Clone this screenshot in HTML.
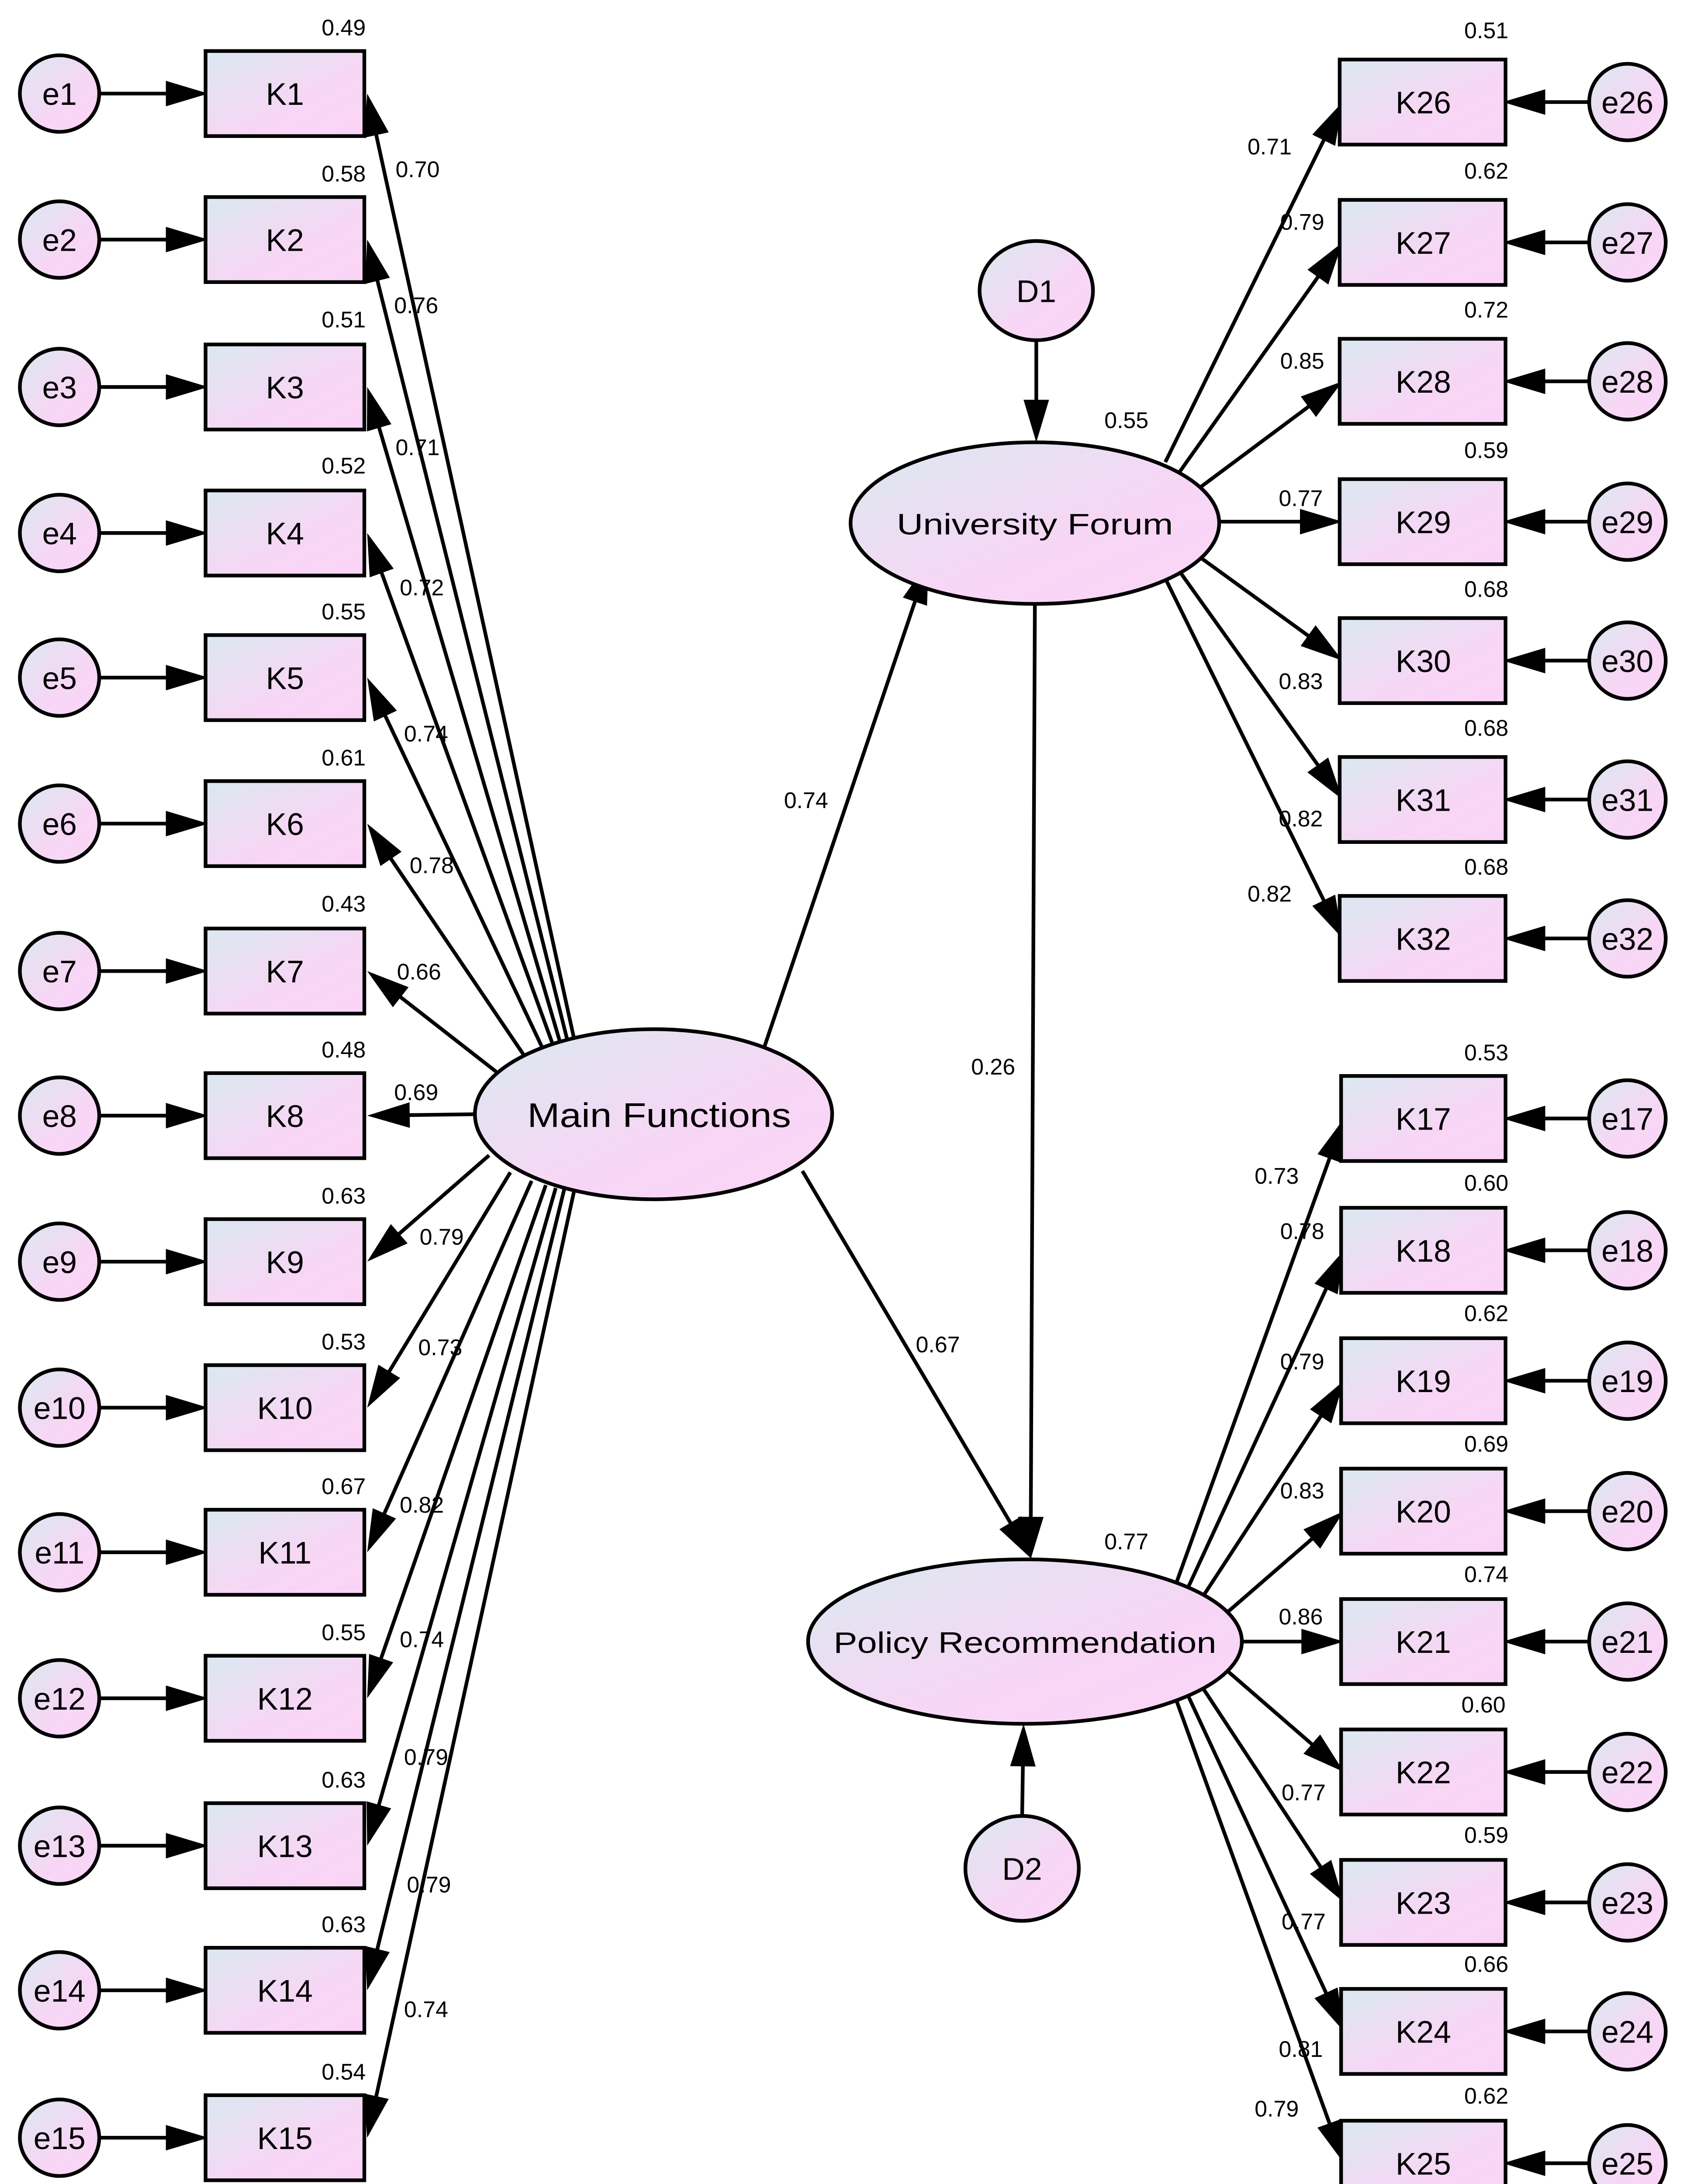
<!DOCTYPE html>
<html><head><meta charset="utf-8"><style>
html,body{margin:0;padding:0;background:#fff;width:3862px;height:5094px;overflow:hidden;}
svg{display:block;position:absolute;left:0;top:0;}
text{font-family:"Liberation Sans",sans-serif;fill:#000;}
.v{font-size:16px;}
.n{font-size:22px;text-anchor:middle;}
</style></head><body>
<svg id="s" width="3862" height="5094" viewBox="0 0 1190 1569.6" preserveAspectRatio="none" xmlns="http://www.w3.org/2000/svg">
<defs>
<linearGradient id="g" x1="0" y1="0" x2="1" y2="1">
<stop offset="0" stop-color="#dbe9f0"/><stop offset="0.6" stop-color="#f7d6f5"/><stop offset="1" stop-color="#fbd4f7"/>
</linearGradient>
</defs>
<g id="lines"></g>
<g id="shapes" stroke="#000" stroke-width="2.6" fill="url(#g)"></g>
<g id="txt">
<text class="n" x="42" y="74">e1</text><text class="n" x="201" y="74">K1</text>
<text class="n" x="42" y="177">e2</text><text class="n" x="201" y="177">K2</text>
<text class="n" x="42" y="281">e3</text><text class="n" x="201" y="281">K3</text>
<text class="n" x="42" y="384">e4</text><text class="n" x="201" y="384">K4</text>
<text class="n" x="42" y="486">e5</text><text class="n" x="201" y="486">K5</text>
<text class="n" x="42" y="589">e6</text><text class="n" x="201" y="589">K6</text>
<text class="n" x="42" y="693">e7</text><text class="n" x="201" y="693">K7</text>
<text class="n" x="42" y="795">e8</text><text class="n" x="201" y="795">K8</text>
<text class="n" x="42" y="898">e9</text><text class="n" x="201" y="898">K9</text>
<text class="n" x="42" y="1001">e10</text><text class="n" x="201" y="1001">K10</text>
<text class="n" x="42" y="1103">e11</text><text class="n" x="201" y="1103">K11</text>
<text class="n" x="42" y="1206">e12</text><text class="n" x="201" y="1206">K12</text>
<text class="n" x="42" y="1310">e13</text><text class="n" x="201" y="1310">K13</text>
<text class="n" x="42" y="1412">e14</text><text class="n" x="201" y="1412">K14</text>
<text class="n" x="42" y="1516">e15</text><text class="n" x="201" y="1516">K15</text>
<g class="v" text-anchor="end">
<text x="258" y="25">0.49</text><text x="258" y="128">0.58</text><text x="258" y="231">0.51</text>
<text x="258" y="334">0.52</text><text x="258" y="437">0.55</text><text x="258" y="540">0.61</text>
<text x="258" y="643">0.43</text><text x="258" y="746">0.48</text><text x="258" y="849">0.63</text>
<text x="258" y="952">0.53</text><text x="258" y="1054">0.67</text><text x="258" y="1157">0.55</text>
<text x="258" y="1261">0.63</text><text x="258" y="1363">0.63</text><text x="258" y="1467">0.54</text>
</g>
<g class="v">
<text x="279" y="125">0.70</text><text x="278" y="221">0.76</text><text x="279" y="321">0.71</text>
<text x="282" y="420">0.72</text><text x="285" y="523">0.74</text><text x="289" y="616">0.78</text>
<text x="280" y="691">0.66</text><text x="278" y="776">0.69</text><text x="296" y="878">0.79</text>
<text x="295" y="956">0.73</text><text x="282" y="1067">0.82</text><text x="282" y="1162">0.74</text>
<text x="285" y="1245">0.79</text><text x="287" y="1335">0.79</text><text x="285" y="1423">0.74</text>
</g>
<text x="465" y="795" font-size="24" text-anchor="middle" textLength="186" lengthAdjust="spacingAndGlyphs">Main Functions</text>
<text x="730" y="377" font-size="21" text-anchor="middle" textLength="195" lengthAdjust="spacingAndGlyphs">University Forum</text>
<text x="723" y="1166" font-size="21" text-anchor="middle" textLength="270" lengthAdjust="spacingAndGlyphs">Policy Recommendation</text>
<text class="n" x="731" y="213">D1</text>
<text class="n" x="721" y="1326">D2</text>
<g class="v">
<text x="553" y="570">0.74</text><text x="685" y="758">0.26</text><text x="646" y="954">0.67</text>
<text x="779" y="302">0.55</text><text x="779" y="1093">0.77</text>
</g>
<text class="n" x="1004" y="80">K26</text><text class="n" x="1148" y="80">e26</text>
<text class="n" x="1004" y="179">K27</text><text class="n" x="1148" y="179">e27</text>
<text class="n" x="1004" y="277">K28</text><text class="n" x="1148" y="277">e28</text>
<text class="n" x="1004" y="376">K29</text><text class="n" x="1148" y="376">e29</text>
<text class="n" x="1004" y="474">K30</text><text class="n" x="1148" y="474">e30</text>
<text class="n" x="1004" y="572">K31</text><text class="n" x="1148" y="572">e31</text>
<text class="n" x="1004" y="670">K32</text><text class="n" x="1148" y="670">e32</text>
<g class="v" text-anchor="end">
<text x="1064" y="27">0.51</text><text x="1064" y="126">0.62</text><text x="1064" y="224">0.72</text>
<text x="1064" y="323">0.59</text><text x="1064" y="421">0.68</text><text x="1064" y="519">0.68</text>
<text x="1064" y="617">0.68</text>
</g>
<g class="v">
<text x="880" y="109">0.71</text><text x="903" y="162">0.79</text><text x="903" y="260">0.85</text>
<text x="902" y="357">0.77</text><text x="902" y="486">0.83</text><text x="902" y="583">0.82</text>
<text x="880" y="636">0.82</text>
</g>
<text class="n" x="1004" y="797">K17</text><text class="n" x="1148" y="797">e17</text>
<text class="n" x="1004" y="890">K18</text><text class="n" x="1148" y="890">e18</text>
<text class="n" x="1004" y="982">K19</text><text class="n" x="1148" y="982">e19</text>
<text class="n" x="1004" y="1074">K20</text><text class="n" x="1148" y="1074">e20</text>
<text class="n" x="1004" y="1166">K21</text><text class="n" x="1148" y="1166">e21</text>
<text class="n" x="1004" y="1258">K22</text><text class="n" x="1148" y="1258">e22</text>
<text class="n" x="1004" y="1350">K23</text><text class="n" x="1148" y="1350">e23</text>
<text class="n" x="1004" y="1441">K24</text><text class="n" x="1148" y="1441">e24</text>
<text class="n" x="1004" y="1534">K25</text><text class="n" x="1148" y="1534">e25</text>
<g class="v" text-anchor="end">
<text x="1064" y="748">0.53</text><text x="1064" y="840">0.60</text><text x="1064" y="932">0.62</text>
<text x="1064" y="1024">0.69</text><text x="1064" y="1116">0.74</text><text x="1062" y="1208">0.60</text>
<text x="1064" y="1300">0.59</text><text x="1064" y="1391">0.66</text><text x="1064" y="1484">0.62</text>
</g>
<g class="v">
<text x="885" y="835">0.73</text><text x="903" y="874">0.78</text><text x="903" y="966">0.79</text>
<text x="903" y="1057">0.83</text><text x="902" y="1146">0.86</text><text x="904" y="1270">0.77</text>
<text x="904" y="1361">0.77</text><text x="902" y="1451">0.81</text><text x="885" y="1493">0.79</text>
</g>
</g>
<script>
(function(){
var NS="http://www.w3.org/2000/svg";
var L=document.getElementById("lines"),S=document.getElementById("shapes");
function el(p,t,a){var e=document.createElementNS(NS,t);for(var k in a)e.setAttribute(k,a[k]);p.appendChild(e);return e;}
function arrow(x1,y1,x2,y2){
  var dx=x2-x1,dy=y2-y1,d=Math.sqrt(dx*dx+dy*dy),ux=dx/d,uy=dy/d,len=30,w=9;
  var bx=x2-ux*len,by=y2-uy*len;
  el(L,"line",{x1:x1,y1:y1,x2:bx+ux*3,y2:by+uy*3,stroke:"#000","stroke-width":2.6});
  el(L,"polygon",{points:x2+","+y2+" "+(bx-uy*w)+","+(by+ux*w)+" "+(bx+uy*w)+","+(by-ux*w),fill:"#000"});
}
var ly=[66,169,273,376,478,581,685,787,890,993,1095,1198,1302,1404,1508];
var ls=[[405,733],[400,733],[395,735],[390,737],[383,740],[370,745],[350,756],[335,786],[345,815],[360,827],[375,833],[385,836],[392,838],[398,839],[405,840]];
ly.forEach(function(y,i){
  arrow(70,y,147,y);
  arrow(ls[i][0],ls[i][1],259,y);
  el(S,"ellipse",{cx:42,cy:y,rx:28,ry:27});
  el(S,"rect",{x:145,y:y-30,width:112,height:60});
});
var ty=[72,171,269,368,466,564,662];
var ts=[[822,326],[832,333],[845,345],[860,368],[845,392],[832,403],[822,408]];
ty.forEach(function(y,i){
  arrow(1121,y,1060,y);
  arrow(ts[i][0],ts[i][1],947,y);
  el(S,"ellipse",{cx:1148,cy:y,rx:27,ry:27});
  el(S,"rect",{x:945,y:y-30,width:117,height:60});
});
var by=[789,882,974,1066,1158,1250,1342,1433,1526];
var bs=[[830,1116],[838,1120],[848,1127],[865,1138],[876,1158],[865,1178],[848,1190],[838,1196],[830,1200]];
by.forEach(function(y,i){
  arrow(1121,y,1060,y);
  arrow(bs[i][0],bs[i][1],948,y);
  el(S,"ellipse",{cx:1148,cy:y,rx:27,ry:27});
  el(S,"rect",{x:946,y:y-30,width:116,height:60});
});
arrow(538,742,655,396);
arrow(730,426,727,1100);
arrow(566,826,728,1100);
arrow(731,240,731,312);
arrow(721,1281,722,1216);
el(S,"ellipse",{cx:461,cy:786,rx:126,ry:60});
el(S,"ellipse",{cx:730,cy:369,rx:130,ry:57});
el(S,"ellipse",{cx:723,cy:1158,rx:153,ry:58});
el(S,"ellipse",{cx:731,cy:205,rx:40,ry:35});
el(S,"ellipse",{cx:721,cy:1318,rx:40,ry:37});
})();
</script>
</svg>
</body></html>
